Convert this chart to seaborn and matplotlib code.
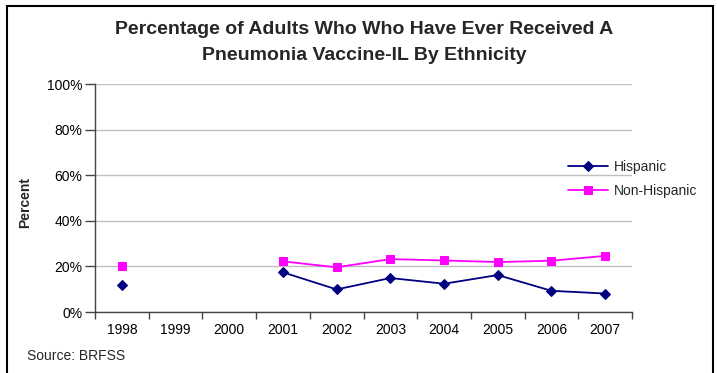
import numpy as np
import pandas as pd
import matplotlib
matplotlib.use("Agg")
import matplotlib.pyplot as plt
from matplotlib.patches import Rectangle
from matplotlib.ticker import FixedLocator, PercentFormatter
import seaborn as sns

# Survey years and percentages (NaN = no data that year)
years = ["1998", "1999", "2000", "2001", "2002", "2003", "2004", "2005", "2006", "2007"]
hispanic = [11.8, np.nan, np.nan, 17.4, 9.9, 14.9, 12.4, 16.2, 9.3, 8.1]
non_hispanic = [20.3, np.nan, np.nan, 22.2, 19.6, 23.2, 22.6, 21.9, 22.5, 24.6]
series_names = ["Hispanic", "Non-Hispanic"]
y_ticks = [0, 20, 40, 60, 80, 100]

sns.set_theme(style="white")
plt.rcParams["font.family"] = ["Liberation Sans", "DejaVu Sans"]

rows = []
for name, vals in zip(series_names, [hispanic, non_hispanic]):
    seg = 0
    prev_missing = False
    for i, v in enumerate(vals):
        if np.isnan(v):
            prev_missing = True
            continue
        if prev_missing:
            seg += 1
            prev_missing = False
        rows.append({"pos": i, "value": v, "series": name, "segment": seg})
df = pd.DataFrame(rows)

fig = plt.figure(figsize=(7.17, 3.73), dpi=100)
ax = fig.add_axes([95 / 717, 1 - 312 / 373, (632 - 95) / 717, (312 - 84) / 373])

palette = {"Hispanic": "#000080", "Non-Hispanic": "#FF00FF"}
markers = {"Hispanic": "D", "Non-Hispanic": "s"}
sizes = {"Hispanic": 5.5, "Non-Hispanic": 5.8}

for name in series_names:
    sub = df[df["series"] == name]
    sns.lineplot(data=sub, x="pos", y="value", units="segment", estimator=None,
                 color=palette[name], marker=markers[name], markersize=sizes[name],
                 markeredgecolor=palette[name], linewidth=1.3, ax=ax, legend=False)

ax.set_xlim(-0.5, len(years) - 0.5)
ax.set_ylim(0, 100)

ax.xaxis.set_major_locator(FixedLocator(range(len(years))))
ax.set_xticklabels(years)
ax.xaxis.set_minor_locator(FixedLocator(np.arange(-0.5, len(years), 1.0)))
ax.tick_params(axis="x", which="major", length=0, labelsize=10, pad=8, colors="black")
ax.tick_params(axis="x", which="minor", length=5, width=1, color="#444444", direction="out", bottom=True)

ax.set_yticks(y_ticks)
ax.yaxis.set_major_formatter(PercentFormatter(decimals=0))
ax.tick_params(axis="y", which="major", length=7, width=1, color="#444444", direction="out",
               left=True, labelsize=10, pad=2, labelcolor="black")

ax.grid(axis="y", color="#c0c0c0", linewidth=1)
ax.set_axisbelow(True)
for side in ["top", "right"]:
    ax.spines[side].set_visible(False)
for side in ["left", "bottom"]:
    ax.spines[side].set_color("#444444")
    ax.spines[side].set_linewidth(1)

ax.set_xlabel("")
ax.set_ylabel("")
fig.text(25 / 717, 1 - 202 / 373, "Percent", rotation=90, ha="center", va="center",
         fontsize=10, fontweight="bold")

fig.text(0.508, 1 - 29 / 373, "Percentage of Adults Who Who Have Ever Received A",
         ha="center", va="center", fontsize=14, fontweight="bold")
fig.text(0.508, 1 - 55 / 373, "Pneumonia Vaccine-IL By Ethnicity",
         ha="center", va="center", fontsize=14, fontweight="bold")

fig.text(27 / 717, 1 - 356 / 373, "Source: BRFSS", ha="left", va="center", fontsize=10)

leg = fig.legend([ax.get_lines()[0], ax.get_lines()[-1]], series_names,
                 loc="center left", bbox_to_anchor=(562 / 717, 1 - 179 / 373),
                 frameon=False, fontsize=10, handlelength=2.9, handletextpad=0.4,
                 labelspacing=0.75, borderaxespad=0)

fig.patches.append(Rectangle((7 / 717, -0.05), (713 - 7) / 717, 1 - 6 / 373 + 0.05,
                             transform=fig.transFigure, fill=False,
                             edgecolor="black", linewidth=1.5))

fig.savefig("out.png", dpi=100)
